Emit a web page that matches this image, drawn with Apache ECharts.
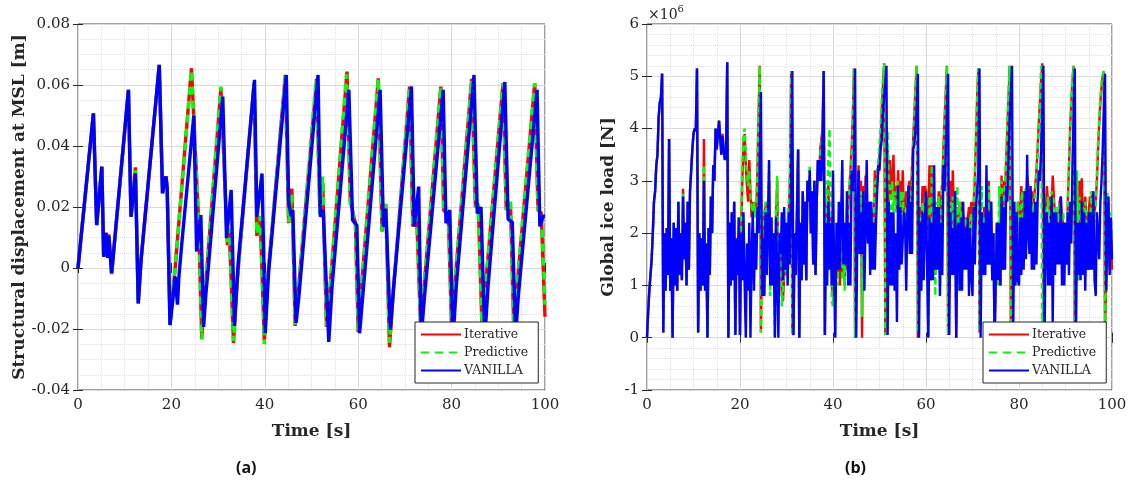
<!DOCTYPE html>
<html><head><meta charset="utf-8">
<script src="https://cdn.jsdelivr.net/npm/echarts@6/dist/echarts.min.js"></script>
<style>html,body{margin:0;padding:0;background:#fff;}#c{width:1134px;height:490px;}</style>
</head><body><div id="c"></div>
<script>
// ---------- Panel (a): structural displacement [m], pairs [time s, value] ----------
const aIterative = [[0,0],[3.3,0.0507],[4.0,0.0141],[5.1,0.0332],[5.5,0.0037],[6.0,0.0115],[6.35,0.0033],[6.6,0.011],[7.2,-0.002],[10.8,0.0584],[11.35,0.0168],[12.3,0.033],[12.9,-0.0116],[13.5,0.0026],[17.4,0.0666],[18.1,0.0245],[18.4,0.027],[18.85,0.030],[19.1,0.026],[19.7,-0.0187],[20.3,-0.008],[20.8,0.0],[24.3,0.0655],[25.8,0.0164],[26.5,-0.023],[27.2,-0.008],[30.6,0.059],[32.0,0.0075],[32.4,0.012],[33.3,-0.0246],[34.1,-0.004],[37.7,0.0605],[38.3,0.0105],[39.0,0.017],[39.9,-0.024],[40.6,-0.004],[44.4,0.0633],[45.1,0.0147],[45.8,0.026],[46.5,-0.019],[47.1,-0.009],[51.1,0.062],[51.8,0.018],[52.4,0.028],[53.2,-0.0193],[53.9,-0.008],[57.6,0.0644],[58.3,0.022],[59.4,0.0147],[60.0,-0.021],[60.6,-0.008],[64.3,0.0622],[65.1,0.012],[65.9,0.021],[66.7,-0.026],[67.4,-0.01],[71.0,0.0595],[71.7,0.0136],[72.5,0.018],[73.4,-0.021],[74.0,-0.008],[77.7,0.0595],[78.3,0.019],[79.3,0.017],[80.0,-0.02],[80.6,-0.007],[84.3,0.062],[85.1,0.02],[85.7,0.021],[86.5,-0.019],[87.2,-0.007],[91.0,0.0606],[91.7,0.019],[92.6,0.021],[93.3,-0.019],[93.9,-0.008],[97.8,0.0606],[98.5,0.019],[99.2,0.018],[100,-0.016]];
const aPredictive = [[0,0],[3.3,0.0507],[4.0,0.0141],[5.1,0.0332],[5.5,0.0037],[6.0,0.0115],[6.35,0.0033],[6.6,0.0108],[7.2,-0.0022],[10.8,0.0584],[11.35,0.0168],[12.3,0.032],[12.9,-0.0116],[13.5,0.0026],[17.4,0.0666],[18.1,0.0245],[18.4,0.027],[18.85,0.029],[19.1,0.026],[19.7,-0.0187],[20.3,-0.008],[20.8,0.0],[24.3,0.065],[25.8,0.017],[26.5,-0.0235],[27.2,-0.008],[30.6,0.0595],[32.0,0.0085],[32.4,0.013],[33.3,-0.024],[34.1,-0.004],[37.7,0.061],[38.3,0.011],[39.0,0.017],[39.9,-0.025],[40.6,-0.004],[44.4,0.063],[45.1,0.015],[45.8,0.024],[46.5,-0.0185],[47.1,-0.009],[51.0,0.062],[51.8,0.017],[52.4,0.030],[53.2,-0.019],[53.9,-0.008],[57.5,0.0635],[58.3,0.021],[59.4,0.015],[60.0,-0.0205],[60.6,-0.008],[64.3,0.062],[65.1,0.012],[65.9,0.021],[66.7,-0.0245],[67.4,-0.01],[71.0,0.0595],[71.7,0.0136],[72.5,0.0185],[73.4,-0.0205],[74.0,-0.008],[77.7,0.0595],[78.3,0.019],[79.3,0.018],[80.0,-0.0195],[80.6,-0.007],[84.3,0.0615],[85.1,0.02],[85.7,0.021],[86.5,-0.0185],[87.2,-0.007],[91.0,0.0605],[91.7,0.019],[92.6,0.022],[93.3,-0.019],[93.9,-0.008],[97.8,0.0606],[98.5,0.019],[99.2,0.019],[100,-0.012]];
const aVanilla = [[0,0],[3.3,0.0507],[4.0,0.0141],[5.1,0.0332],[5.5,0.0037],[6.0,0.0115],[6.35,0.0033],[6.6,0.0105],[7.2,-0.0017],[10.8,0.0584],[11.35,0.0168],[12.3,0.031],[12.9,-0.0116],[13.5,0.0026],[17.4,0.0666],[18.1,0.0245],[18.4,0.027],[18.85,0.030],[19.1,0.026],[19.7,-0.0187],[20.3,-0.0105],[20.8,-0.0028],[21.3,-0.012],[21.6,-0.003],[22.3,0.0092],[24.8,0.050],[25.4,0.0054],[26.3,0.0174],[26.9,-0.0193],[27.4,-0.0082],[27.9,0.0],[31.0,0.0562],[31.8,0.0098],[32.8,0.0256],[33.5,-0.019],[34.3,0.0016],[37.8,0.0617],[38.3,0.0168],[39.4,0.031],[40.1,-0.0214],[40.8,-0.0017],[44.6,0.0633],[45.1,0.0223],[45.6,0.017],[46.0,0.019],[46.7,-0.018],[47.3,-0.0094],[51.4,0.0633],[51.9,0.0168],[52.5,0.019],[53.7,-0.0242],[54.4,-0.0061],[58.0,0.0584],[58.8,0.0157],[59.7,0.014],[60.3,-0.0214],[60.9,-0.0106],[64.7,0.0584],[65.4,0.0135],[65.9,0.0195],[66.9,-0.0203],[67.6,-0.006],[71.4,0.0595],[72.0,0.0136],[72.95,0.0267],[73.5,-0.0225],[74.2,-0.0094],[78.2,0.0584],[78.8,0.0147],[79.6,0.019],[80.3,-0.0236],[81.0,-0.006],[84.8,0.0633],[85.5,0.0179],[86.3,0.020],[87.1,-0.0236],[87.8,-0.006],[91.4,0.061],[92.1,0.016],[93.0,0.015],[93.7,-0.0225],[94.3,-0.009],[98.3,0.0584],[98.9,0.0136],[99.6,0.017],[100,0.017]];

// ---------- Panel (b): global ice load [x1e6 N]; one row per 5 s block, samples every 0.25 s ----------
const bRowSpan = 5;
const bStep = 0.25;
const bIterative = [
[0,0.5,0.9,1.2,1.5,2.0,2.6,2.8,3.3,3.5,4.2,4.5,4.6,5.05,0.1,2.0,0.9,2.1,1.2,3.8],
[0.9,1.9,0.0,2.2,1.0,2.1,0.9,2.6,1.2,2.0,1.1,2.85,1.5,2.2,1.0,2.6,1.3,2.8,3.2,3.6],
[3.9,4.0,3.95,5.15,0.1,2.0,0.9,1.9,1.0,3.8,0.9,1.8,0.0,2.1,1.2,2.7,2.0,3.3,3.0,4.0],
[3.6,3.9,4.15,3.8,3.5,3.9,3.6,3.4,3.5,5.27,0.0,2.2,1.0,2.4,1.1,2.6,0.05,1.9,1.2,2.3],
[0.05,2.0,3.0,3.7,3.9,3.3,2.9,2.6,3.4,2.8,2.3,2.6,2.4,2.6,2.3,3.2,4.3,5.2,0.1,1.8],
[2.0,2.4,2.4,2.6,2.1,3.0,1.0,2.3,1.0,2.0,0.6,2.3,3.0,1.2,2.0,1.6,0.8,0.7,1.2,1.8],
[1.2,2.0,2.4,3.1,5.1,0.1,0.05,2.0,1.2,2.4,3.6,0.0,2.2,1.1,2.8,1.4,2.6,1.1,3.0,2.6],
[3.0,2.0,2.8,1.4,3.0,1.2,2.6,3.4,3.0,3.6,3.8,4.0,5.1,0.05,2.6,2.2,3.0,2.0,2.4,1.0],
[0.8,1.4,0.9,1.6,1.2,2.0,1.0,2.4,1.2,1.8,1.0,2.0,1.3,2.4,2.8,3.2,3.6,4.2,5.15,0.0],
[0.0,2.2,3.3,2.5,3.0,0.0,2.9,2.2,3.1,2.6,2.6,2.0,2.6,2.2,2.4,2.0,3.2,2.6,3.0,3.2],
[3.2,3.8,4.4,4.8,5.25,0.05,2.2,3.6,2.6,3.4,2.7,3.0,3.5,2.6,2.9,2.4,3.2,2.6,3.0,2.4],
[3.2,2.4,2.0,2.8,2.4,2.9,3.0,2.6,3.3,3.8,4.3,4.8,5.2,0.0,1.8,2.5,2.2,2.9,2.4,2.9],
[2.8,2.0,2.4,3.3,1.1,3.3,2.7,2.5,1.2,2.5,2.2,2.8,1.2,2.6,3.0,3.6,4.2,4.7,5.2,0.05],
[2.0,3.0,1.2,3.2,2.4,2.8,0.0,2.5,2.1,2.6,2.3,2.6,2.6,2.1,2.3,1.9,2.3,2.5,2.1,2.6],
[2.3,2.5,3.0,3.8,4.6,5.15,0.1,1.8,2.4,1.2,2.5,1.4,2.2,1.4,3.0,1.4,2.6,1.1,2.0,0.0],
[0.0,2.2,1.1,2.2,1.0,3.1,1.3,3.0,2.8,3.4,4.0,4.6,5.2,0.1,1.5,2.6,1.0,2.4,1.1,2.6],
[2.5,2.3,2.9,2.3,2.8,2.2,2.4,3.1,2.9,2.7,2.6,2.8,2.4,2.7,2.9,3.2,3.6,4.1,4.5,4.9],
[5.25,0.1,1.8,2.4,2.9,2.6,2.7,2.0,2.4,3.1,2.7,2.3,2.4,2.0,2.2,2.6,2.7,2.3,2.2,2.0],
[2.2,1.4,2.6,3.3,4.0,4.5,4.9,5.2,0.0,1.6,2.4,1.1,3.0,2.4,3.05,2.2,2.4,2.7,2.2,1.3],
[2.4,2.7,2.4,2.8,2.3,2.4,2.6,3.0,3.6,4.1,4.5,4.8,5.0,5.1,0.1,1.0,2.5,1.8,1.3,2.0],
[1.3]];
const bPredictive = [
[0,0.5,0.9,1.2,1.5,2.0,2.6,2.8,3.3,3.5,4.2,4.5,4.6,5.05,0.1,2.0,0.9,2.1,1.2,3.8],
[0.9,1.9,0.0,2.2,1.0,2.1,0.9,2.6,1.2,2.0,1.1,2.75,1.5,2.2,1.0,2.6,1.3,2.8,3.2,3.6],
[3.9,4.0,3.95,5.15,0.1,2.0,0.9,1.9,1.0,3.3,0.9,1.8,0.0,2.1,1.2,2.7,2.0,3.3,3.0,4.0],
[3.6,3.9,4.15,3.8,3.5,3.8,3.6,3.4,3.5,5.27,0.0,2.2,1.0,2.4,1.1,2.6,0.05,1.9,1.2,2.3],
[0.05,2.2,3.3,3.9,4.0,3.5,3.1,2.9,3.2,2.7,2.5,2.4,2.6,2.3,2.6,3.3,4.4,5.2,0.1,2.0],
[2.2,2.4,2.6,2.3,2.1,3.4,0.8,2.3,1.0,2.0,0.0,2.4,3.1,1.0,2.0,1.6,0.6,0.9,1.4,1.7],
[1.2,2.2,2.6,3.2,5.1,0.1,0.05,2.0,1.2,2.4,3.6,0.0,2.2,1.1,2.8,1.4,2.6,1.1,3.0,2.6],
[3.3,2.0,2.8,1.4,3.0,1.2,2.6,3.4,3.0,3.5,3.7,3.9,5.1,0.05,3.0,2.5,3.4,4.0,2.6,0.7],
[0.6,1.2,0.7,1.8,1.0,2.2,1.3,2.6,1.1,1.6,0.9,2.2,1.5,2.6,2.9,3.1,3.4,4.0,5.15,0.0],
[0.0,2.0,2.6,2.2,2.8,0.4,2.4,2.0,2.6,2.4,2.4,2.2,2.4,2.0,2.2,2.3,3.0,2.8,3.2,3.4],
[3.4,4.0,4.6,5.0,5.25,0.05,2.4,3.95,3.0,2.8,2.4,3.0,2.4,2.8,2.4,2.6,3.0,2.4,2.8,2.2],
[2.8,2.2,2.2,2.5,2.4,2.9,2.9,2.4,3.0,3.6,4.2,4.7,5.2,0.1,1.6,2.3,2.2,2.6,2.2,2.6],
[2.8,1.6,0.0,2.7,1.1,3.3,2.4,2.5,0.8,2.6,2.0,2.7,1.0,2.4,2.8,3.5,4.1,4.6,5.2,0.05],
[2.2,2.6,1.2,2.7,2.2,2.5,0.2,2.9,0.9,2.6,2.3,2.4,2.3,2.0,2.3,1.7,2.0,2.3,2.0,2.4],
[2.0,2.5,3.1,3.9,4.6,5.15,0.1,1.6,2.9,1.2,2.3,1.4,2.7,1.4,2.9,1.4,2.6,1.1,2.0,0.0],
[0.0,2.2,1.0,2.9,1.3,3.0,1.4,2.8,2.9,3.5,4.1,4.7,5.2,0.1,1.3,2.6,1.0,2.4,1.1,2.6],
[2.2,2.3,2.6,2.8,2.0,2.7,2.9,2.4,2.6,2.5,2.7,2.6,2.4,2.6,2.8,3.1,3.5,4.0,4.5,5.2],
[0.1,0.1,1.6,2.4,2.5,2.7,2.2,2.4,2.8,2.7,2.6,2.4,2.2,2.5,2.2,2.6,2.4,2.2,2.4,2.1],
[2.2,1.4,2.6,3.2,4.0,4.6,5.0,5.2,0.0,1.4,3.2,1.1,2.7,2.4,2.4,2.5,2.2,2.6,2.4,1.6],
[2.4,1.3,2.8,2.6,2.4,2.2,2.6,3.1,3.7,4.2,4.6,4.9,5.0,5.1,0.3,1.2,2.8,2.0,1.5,2.4],
[1.5]];
const bVanilla = [
[0,0.5,0.9,1.2,1.5,2.0,2.6,2.8,3.3,3.5,4.2,4.5,4.6,5.05,0.1,2.0,0.9,2.1,1.2,3.8],
[0.9,1.9,0.0,2.2,1.0,2.1,0.9,2.6,1.2,2.0,1.1,2.7,1.5,2.2,1.0,2.6,1.3,2.8,3.2,3.6],
[3.9,4.0,3.95,5.15,0.1,2.0,0.9,1.9,1.0,3.0,0.9,1.8,0.0,2.1,1.2,2.7,2.0,3.3,3.0,4.0],
[3.6,3.9,4.15,3.8,3.5,3.85,3.6,3.4,3.5,5.27,0.0,2.2,1.0,2.4,1.1,2.6,0.05,1.9,1.2,2.3],
[0.05,2.0,1.1,2.4,1.0,0.0,1.8,0.9,2.2,0.0,1.6,2.4,0.9,2.0,1.3,2.5,2.0,3.4,4.7,0.8],
[1.9,0.8,2.4,1.2,2.1,3.4,1.0,2.3,1.0,2.0,0.0,2.3,1.2,0.0,2.0,1.6,2.4,1.1,2.5,1.3],
[2.2,1.0,2.4,1.4,3.0,5.1,0.05,2.0,1.2,2.4,3.6,0.0,2.2,1.1,2.8,1.4,2.6,1.1,3.0,2.6],
[3.2,2.0,2.8,1.4,3.0,1.2,2.6,3.4,3.0,3.4,3.0,3.8,5.1,0.05,2.2,1.0,2.6,1.3,2.2,1.0],
[3.2,1.2,0.0,2.2,1.3,2.6,1.3,2.4,3.4,1.4,2.2,1.4,2.8,1.0,2.2,1.0,3.2,2.8,3.4,5.15],
[0.0,2.1,3.2,1.6,2.4,1.6,2.8,0.9,2.2,3.4,1.8,2.6,1.2,2.6,1.3,2.2,1.3,2.2,2.8,3.3],
[3.2,3.6,3.8,4.3,4.6,4.9,5.2,0.05,2.6,1.0,2.4,1.0,2.4,0.9,2.0,0.3,2.9,1.3,2.5,1.4],
[1.4,2.4,2.2,0.9,2.4,2.9,1.6,2.6,1.6,3.6,3.7,4.0,4.4,5.05,0.0,2.2,0.9,2.4,1.1,2.2],
[2.8,1.3,0.0,2.3,1.1,2.2,1.1,3.3,1.3,2.5,1.3,2.5,0.8,2.2,1.2,3.3,2.8,3.6,4.4,5.05],
[0.05,2.4,1.2,2.1,1.2,2.8,0.0,2.0,2.2,0.9,2.3,0.9,2.6,1.3,2.1,1.3,2.3,0.8,2.1,1.2],
[0.8,2.5,1.4,2.5,2.5,3.2,5.15,0.0,2.4,1.2,2.2,1.2,3.3,1.4,2.4,1.4,2.6,1.1,2.0,0.0],
[0.0,2.2,1.1,2.2,1.0,2.7,1.3,2.5,1.3,2.9,2.6,3.5,4.2,4.7,5.2,0.0,2.6,1.0,2.4,1.1],
[1.0,2.3,1.2,2.3,1.3,2.8,1.5,3.5,2.0,1.6,2.9,1.3,2.4,1.3,2.6,1.4,2.6,3.2,3.0,3.6],
[4.4,5.2,0.0,2.1,2.4,1.0,2.2,1.0,2.7,0.3,2.4,1.2,2.4,1.4,2.2,1.4,2.7,1.0,2.2,1.0],
[2.2,1.4,2.4,1.2,2.6,1.8,3.3,4.3,5.15,0.0,2.2,1.2,2.2,1.1,2.6,1.2,2.4,0.9,2.2,1.3],
[2.4,1.3,2.4,1.3,2.8,1.1,0.8,2.4,2.4,1.5,2.6,3.0,3.6,4.4,5.05,0.9,2.0,2.7,1.2,2.3],
[1.5]];

const seriesNames = ['Iterative', 'Predictive', 'VANILLA'];
const seriesColors = ['#ff0000', '#00ff00', '#0000ff'];

// rows of 0.25 s samples -> [time, value] pairs
const rowsToPairs = rows => {
  const out = [];
  rows.forEach((row, r) => row.forEach((v, j) => out.push([r * bRowSpan + j * bStep, v])));
  return out;
};

const SERIF = 'DejaVu Serif';
const AXC = '#262626';

function xAxes(gi) {
  return [{
    type: 'value', gridIndex: gi, min: 0, max: 100, interval: 20, position: 'bottom',
    name: 'Time [s]', nameLocation: 'middle', nameGap: 33,
    nameTextStyle: { fontFamily: SERIF, fontWeight: 'bold', fontSize: 17, color: AXC },
    axisLine: { show: false },
    axisTick: { show: true, inside: true, length: 5, lineStyle: { color: AXC } },
    axisLabel: { fontFamily: SERIF, fontSize: 15, color: AXC, margin: 8 },
    splitLine: { show: true, lineStyle: { color: '#dadada', width: 1 } },
    minorTick: { show: true, splitNumber: 4, length: 0 },
    minorSplitLine: { show: true, lineStyle: { color: '#e2e2e2', type: 'dotted', width: 1 } }
  }, {
    type: 'value', gridIndex: gi, min: 0, max: 100, interval: 20, position: 'top',
    axisLine: { show: false }, axisLabel: { show: false }, splitLine: { show: false },
    axisTick: { show: true, inside: true, length: 5, lineStyle: { color: AXC } }
  }];
}
function yAxes(gi, min, max, interval, minorN, name, gap, fmt) {
  return [{
    type: 'value', gridIndex: gi, min: min, max: max, interval: interval, position: 'left',
    name: name, nameLocation: 'middle', nameGap: gap, nameRotate: 90,
    nameTextStyle: { fontFamily: SERIF, fontWeight: 'bold', fontSize: 17, color: AXC },
    axisLine: { show: false },
    axisTick: { show: true, inside: true, length: 5, lineStyle: { color: AXC } },
    axisLabel: { fontFamily: SERIF, fontSize: 15, color: AXC, margin: 8, formatter: fmt },
    splitLine: { show: true, lineStyle: { color: '#dadada', width: 1 } },
    minorTick: { show: true, splitNumber: minorN, length: 0 },
    minorSplitLine: { show: true, lineStyle: { color: '#e2e2e2', type: 'dotted', width: 1 } }
  }, {
    type: 'value', gridIndex: gi, min: min, max: max, interval: interval, position: 'right',
    axisLine: { show: false }, axisLabel: { show: false }, splitLine: { show: false },
    axisTick: { show: true, inside: true, length: 5, lineStyle: { color: AXC } }
  }];
}

const fmtA = v => Math.abs(v) < 1e-9 ? '0' : v.toFixed(2);
const fmtB = v => String(Math.round(v));

const aData = [aIterative, aPredictive, aVanilla];
const bData = [rowsToPairs(bIterative), rowsToPairs(bPredictive), rowsToPairs(bVanilla)];

const series = [];
seriesNames.forEach((n, k) => {
  series.push({
    name: n, type: 'line', xAxisIndex: 0, yAxisIndex: 0, data: aData[k],
    symbol: 'none', animation: false, z: 2 + k,
    lineStyle: { color: seriesColors[k], width: 3.4, type: k === 1 ? [8, 6] : 'solid' },
    itemStyle: { color: seriesColors[k] }
  });
});
seriesNames.forEach((n, k) => {
  series.push({
    name: n, type: 'line', xAxisIndex: 2, yAxisIndex: 2, data: bData[k],
    symbol: 'none', animation: false, z: 2 + k,
    lineStyle: { color: seriesColors[k], width: 2.4, type: k === 1 ? [6, 4] : 'solid' },
    itemStyle: { color: seriesColors[k] }
  });
});

function legend(left) {
  return {
    orient: 'vertical', left: left, top: 322, data: seriesNames,
    backgroundColor: '#fff', borderColor: AXC, borderWidth: 1, borderRadius: 0,
    padding: [6, 10, 6, 5], itemGap: 5, itemWidth: 40, itemHeight: 14,
    itemStyle: { opacity: 0 },
    textStyle: { fontFamily: SERIF, fontSize: 12.5, color: AXC, padding: [0, 0, 0, -2] },
    selectedMode: false, z: 20
  };
}

const option = {
  backgroundColor: '#fff',
  animation: false,
  grid: [
    { left: 78, top: 24, width: 467, height: 366, show: true, borderColor: '#404040', borderWidth: 1, backgroundColor: '#fff' },
    { left: 647, top: 24, width: 465, height: 366, show: true, borderColor: '#404040', borderWidth: 1, backgroundColor: '#fff' }
  ],
  xAxis: [...xAxes(0), ...xAxes(1)],
  yAxis: [
    ...yAxes(0, -0.04, 0.08, 0.02, 4, 'Structural displacement at MSL [m]', 50, fmtA),
    ...yAxes(1, -1, 6, 1, 5, 'Global ice load [N]', 30, fmtB)
  ],
  legend: [legend(415), legend(983)],
  graphic: [
    { type: 'text', left: 648, top: 4, style: { rich: { a: { fontFamily: SERIF, fontSize: 14, fill: AXC, verticalAlign: 'bottom', lineHeight: 18 }, b: { fontFamily: SERIF, fontSize: 10, fill: AXC, verticalAlign: 'top', lineHeight: 18 } }, text: '{a|×10}{b|6}' } },
    { type: 'text', left: 236, top: 460, style: { text: '(a)', fontFamily: 'Open Sans', fontWeight: 'bold', fontSize: 16, fill: '#111' } },
    { type: 'text', left: 845, top: 460, style: { text: '(b)', fontFamily: 'Open Sans', fontWeight: 'bold', fontSize: 16, fill: '#111' } }
  ],
  series: series
};

const chart = echarts.init(document.getElementById('c'), null, { renderer: 'canvas' });
chart.setOption(option);
</script>
</body></html>
